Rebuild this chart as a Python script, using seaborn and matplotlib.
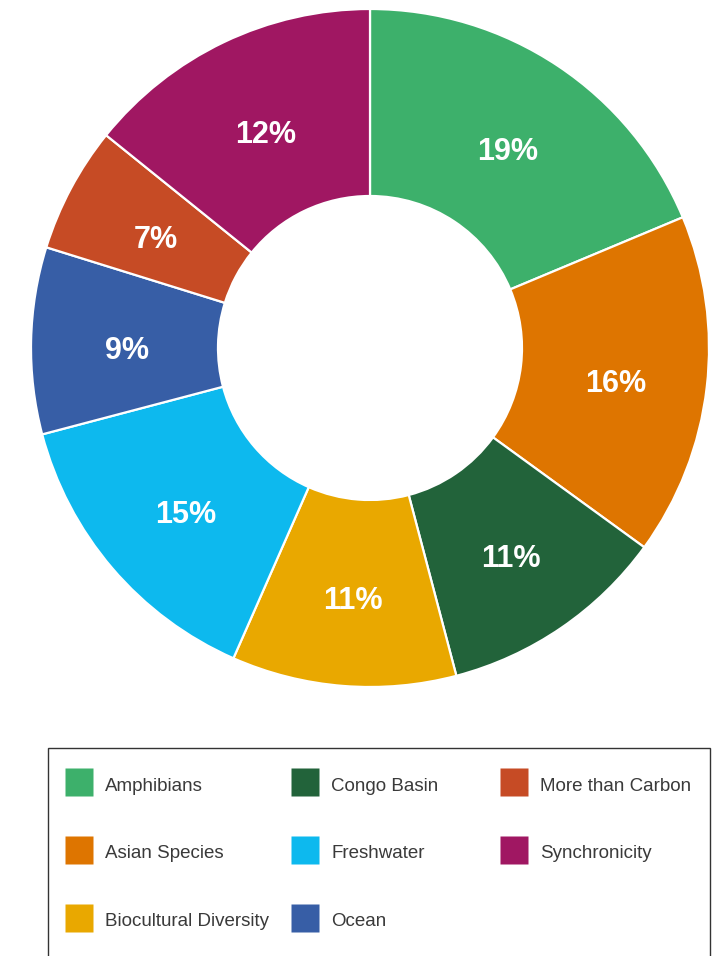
import matplotlib
matplotlib.use("Agg")
import matplotlib.pyplot as plt
import matplotlib.patches as mpatches
import matplotlib.transforms as mtransforms
from matplotlib.lines import Line2D
import numpy as np
import seaborn as sns

sns.set_theme(style="white")
plt.rcParams['font.family'] = ['Liberation Sans', 'DejaVu Sans']

# data, clockwise from 12 o'clock (wedge sizes, labels as printed)
categories = ["Amphibians", "Asian Species", "Congo Basin", "Biocultural Diversity",
              "Freshwater", "Ocean", "More than Carbon", "Synchronicity"]
shares = [18.7, 16.3, 10.9, 10.7, 14.3, 8.9, 6.0, 14.2]
labels = ["19%", "16%", "11%", "11%", "15%", "9%", "7%", "12%"]
colors = ["#3DB06B", "#DE7500", "#22633A", "#E9A800",
          "#0DB9EE", "#375EA6", "#C64B25", "#A01762"]
legend_cols = [["Amphibians", "Asian Species", "Biocultural Diversity"],
               ["Congo Basin", "Freshwater", "Ocean"],
               ["More than Carbon", "Synchronicity"]]
palette = dict(zip(categories, sns.color_palette(colors)))

W, H = 716, 956
fig = plt.figure(figsize=(W / 100, H / 100), dpi=100)

# donut
cx, cy, r_out, r_in = 370, 348, 339, 152
ax = fig.add_axes([(cx - r_out) / W, (H - cy - r_out) / H, 2 * r_out / W, 2 * r_out / H])
ax.pie(shares, colors=[palette[c] for c in categories], startangle=90, counterclock=False,
       radius=1.0, wedgeprops=dict(width=1 - r_in / r_out, edgecolor="white", linewidth=1.6))
ax.set_xlim(-1, 1)
ax.set_ylim(-1, 1)
ax.set_aspect("equal")
ax.axis("off")

# labels sit a little below the wedge middles in the original
lab_tr = mtransforms.offset_copy(ax.transData, fig=fig, x=2, y=-8, units="dots")
cum = np.cumsum([0] + shares) / sum(shares) * 360
r_lab = (1 + r_in / r_out) / 2
for i, lab in enumerate(labels):
    mid = np.deg2rad(90 - (cum[i] + cum[i + 1]) / 2)
    ax.text(r_lab * np.cos(mid), r_lab * np.sin(mid), lab, color="white", transform=lab_tr,
            fontsize=22, fontweight="bold", ha="center", va="center")

# legend box (runs off the bottom edge)
box = mpatches.Rectangle((48 / W, -0.05), (710 - 48) / W, (H - 748) / H + 0.05,
                         transform=fig.transFigure, fill=False, edgecolor="#333333",
                         linewidth=1.0)
fig.patches.append(box)

col_x = [65, 291, 500]
for c, names in enumerate(legend_cols):
    handles = [Line2D([], [], linestyle="none", marker="s", markersize=20,
                      markerfacecolor=palette[n], markeredgecolor="none") for n in names]
    fig.legend(handles, names, loc="upper left",
               bbox_to_anchor=(col_x[c] / W, (H - 773) / H), frameon=False,
               fontsize=13.5, labelcolor="#3a3a3a", handlelength=1.5, handleheight=1.5,
               handletextpad=0.65, labelspacing=2.4, borderpad=0, borderaxespad=0)

fig.savefig("out.png", dpi=100)
